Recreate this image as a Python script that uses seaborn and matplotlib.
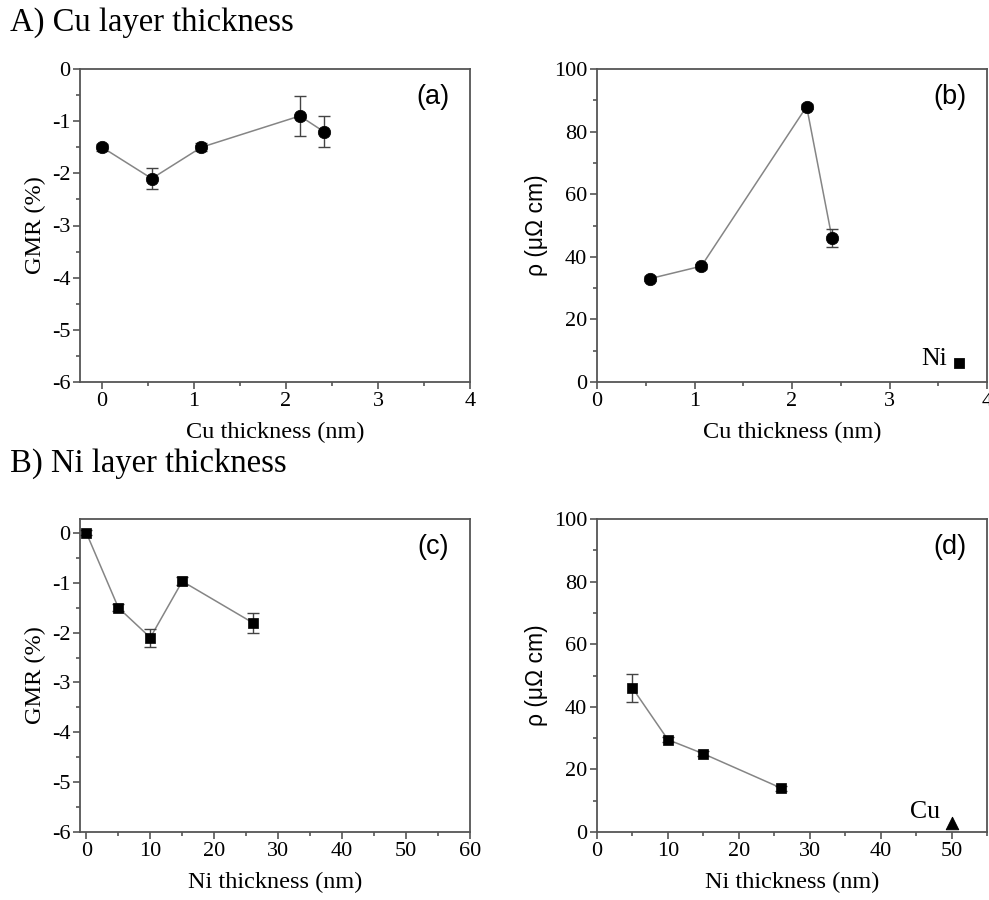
import matplotlib
matplotlib.use("Agg")
import matplotlib.pyplot as plt
import seaborn as sns
import numpy as np
import pandas as pd
from matplotlib.ticker import MultipleLocator

# (a) GMR vs Cu thickness
cu_x_gmr = [0.0, 0.54, 1.08, 2.15, 2.41]
cu_gmr = [-1.5, -2.1, -1.5, -0.9, -1.2]
cu_gmr_err = [0.07, 0.2, 0.08, 0.38, 0.3]

# (b) resistivity vs Cu thickness
cu_x_rho = [0.54, 1.07, 2.15, 2.41]
cu_rho = [33, 37, 88, 46]
cu_rho_err = [0.8, 0.8, 0.8, 3.0]
ni_ref_x = [3.71]
ni_ref_rho = [6]

# (c) GMR vs Ni thickness
ni_x_gmr = [0, 5, 10, 15, 26]
ni_gmr = [0.0, -1.5, -2.1, -0.97, -1.8]
ni_gmr_err = [0.05, 0.07, 0.18, 0.08, 0.2]

# (d) resistivity vs Ni thickness
ni_x_rho = [5, 10, 15, 26]
ni_rho = [46, 29.5, 25, 14]
ni_rho_err = [4.5, 0.8, 0.8, 0.8]
cu_ref_x = [50]
cu_ref_rho = [3]

sns.set_theme(style="white")
plt.rcParams['font.family'] = ['Liberation Serif', 'DejaVu Serif']
plt.rcParams['axes.unicode_minus'] = False
plt.rcParams['text.color'] = 'black'
plt.rcParams['axes.labelcolor'] = 'black'
plt.rcParams['xtick.labelcolor'] = 'black'
plt.rcParams['ytick.labelcolor'] = 'black'

SPINE = '#555555'
LINE = '#858585'
SANS = ['Liberation Sans', 'DejaVu Sans']

fig = plt.figure(figsize=(9.89, 9.0), dpi=100)
W, H = 989, 900


def make_ax(left, top, right, bottom):
    return fig.add_axes([left / W, 1 - bottom / H, (right - left) / W, (bottom - top) / H])


def style(ax, xmaj, xmin, ymaj, ymin):
    for s in ax.spines.values():
        s.set_color(SPINE)
        s.set_linewidth(1.3)
    ax.xaxis.set_major_locator(MultipleLocator(xmaj))
    ax.xaxis.set_minor_locator(MultipleLocator(xmin))
    ax.yaxis.set_major_locator(MultipleLocator(ymaj))
    ax.yaxis.set_minor_locator(MultipleLocator(ymin))
    ax.tick_params(which='both', direction='out', bottom=True, left=True,
                   top=False, right=False, color=SPINE, width=1.2,
                   labelsize=16, pad=2)
    ax.tick_params(which='major', length=5)
    ax.tick_params(which='minor', length=3)
    ax.grid(False)


def series(ax, x, y, err, marker, size):
    df = pd.DataFrame({'x': x, 'y': y})
    sns.lineplot(data=df, x='x', y='y', ax=ax, color=LINE, linewidth=1.1,
                 sort=False, estimator=None, zorder=2)
    ax.errorbar(x, y, yerr=err, fmt='none', ecolor='#444444', elinewidth=1.0,
                capsize=4, capthick=1.0, zorder=3)
    sns.scatterplot(data=df, x='x', y='y', ax=ax, marker=marker, s=size,
                    color='black', edgecolor='black', linewidth=0.5, zorder=4)


ax_a = make_ax(80, 69, 470, 382)
ax_b = make_ax(597, 69, 987, 382)
ax_c = make_ax(80, 519, 470, 832)
ax_d = make_ax(597, 519, 987, 832)

# (a)
series(ax_a, cu_x_gmr, cu_gmr, cu_gmr_err, 'o', 80)
ax_a.set_xlim(-0.24, 4)
ax_a.set_ylim(-6, 0)
style(ax_a, 1, 0.5, 1, 0.5)
ax_a.set_xlabel('Cu thickness (nm)', fontsize=17.5, labelpad=8)
ax_a.set_ylabel('GMR (%)', fontsize=17.5, labelpad=4)

# (b)
series(ax_b, cu_x_rho, cu_rho, cu_rho_err, 'o', 80)
sns.scatterplot(x=ni_ref_x, y=ni_ref_rho, ax=ax_b, marker='s', s=50,
                color='black', edgecolor='black', zorder=4)
ax_b.text(3.59, 7.5, 'Ni', ha='right', va='center', fontsize=18.5)
ax_b.set_xlim(0, 4)
ax_b.set_ylim(0, 100)
style(ax_b, 1, 0.5, 20, 10)
ax_b.set_xlabel('Cu thickness (nm)', fontsize=17.5, labelpad=8)
ax_b.set_ylabel('ρ (μΩ cm)', fontsize=16.5, labelpad=4, family=SANS)

# (c)
series(ax_c, ni_x_gmr, ni_gmr, ni_gmr_err, 's', 60)
ax_c.set_xlim(-1, 60)
ax_c.set_ylim(-6, 0.28)
style(ax_c, 10, 5, 1, 0.5)
ax_c.set_xlabel('Ni thickness (nm)', fontsize=17.5, labelpad=8)
ax_c.set_ylabel('GMR (%)', fontsize=17.5, labelpad=4)

# (d)
series(ax_d, ni_x_rho, ni_rho, ni_rho_err, 's', 60)
sns.scatterplot(x=cu_ref_x, y=cu_ref_rho, ax=ax_d, marker='^', s=80,
                color='black', edgecolor='black', zorder=4)
ax_d.text(48.4, 6.5, 'Cu', ha='right', va='center', fontsize=18.5)
ax_d.set_xlim(0, 55)
ax_d.set_ylim(0, 100)
style(ax_d, 10, 5, 20, 10)
ax_d.set_xlabel('Ni thickness (nm)', fontsize=17.5, labelpad=8)
ax_d.set_ylabel('ρ (μΩ cm)', fontsize=16.5, labelpad=4, family=SANS)

for ax, lab in zip([ax_a, ax_b, ax_c, ax_d], ['(a)', '(b)', '(c)', '(d)']):
    ax.text(0.905, 0.912, lab, transform=ax.transAxes, ha='center', va='center',
            fontsize=19.5, family=SANS)

fig.text(10 / W, 1 - 7 / H, 'A) Cu layer thickness', ha='left', va='top', fontsize=23.5)
fig.text(10 / W, 1 - 448 / H, 'B) Ni layer thickness', ha='left', va='top', fontsize=23.5)

fig.savefig('out.png', dpi=100)
